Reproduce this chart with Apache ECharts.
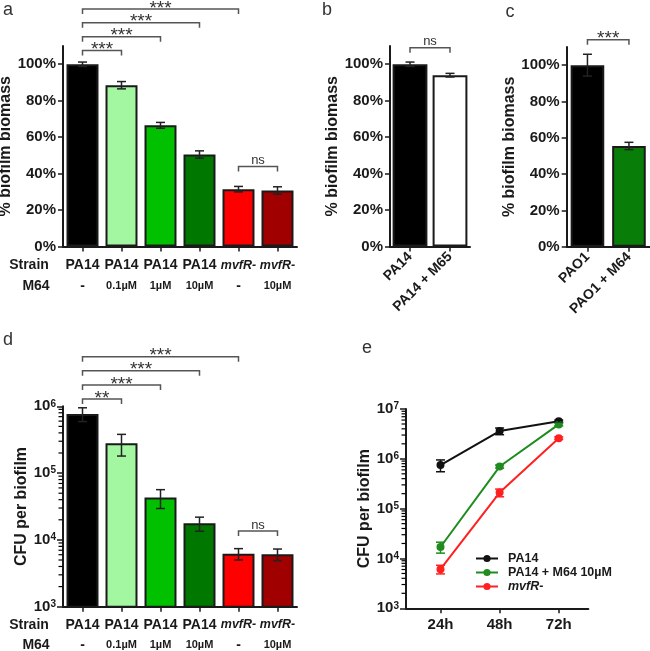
<!DOCTYPE html>
<html><head><meta charset="utf-8">
<script src="https://cdn.jsdelivr.net/npm/echarts@6/dist/echarts.min.js"></script>
<style>html,body{margin:0;padding:0;background:#fff}#c{width:650px;height:651px}</style>
</head><body><div id="c"></div><script>
// ---------- Panel a ----------
const aStrain = ['PA14','PA14','PA14','PA14','mvfR-','mvfR-'];
const aM64 = ['-','0.1µM','1µM','10µM','-','10µM'];
const aValues = [100, 88.5, 66.5, 50.5, 31.5, 30.8];
const aErrors = [1.2, 2.0, 1.6, 2.0, 1.5, 2.0];
const aColors = ['#000000','#a3f7a0','#00c000','#007800','#ff0000','#a00000'];
const aBrackets = [[0,1,107.5,'***'],[0,2,115.1,'***'],[0,3,122.8,'***'],[0,3.85,130.3,'***'],[4,5,43.9,'ns']];
const pctTicks = [0,20,40,60,80,100];
// ---------- Panel b ----------
const bCats = ['PA14','PA14 + M65'];
const bValues = [100, 94];
const bErrors = [1.2, 1.0];
const bColors = ['#000000','#ffffff'];
const bBrackets = [[0,1,109.1,'ns']];
// ---------- Panel c ----------
const cCats = ['PAO1','PAO1 + M64'];
const cValues = [100, 55.5];
const cErrors = [6, 2];
const cColors = ['#000000','#087d08'];
const cBrackets = [[0,1,114,'***']];
// ---------- Panel d ----------
const dStrain = ['PA14','PA14','PA14','PA14','mvfR-','mvfR-'];
const dM64 = ['-','0.1µM','1µM','10µM','-','10µM'];
const dValues = [7.7e5, 2.8e5, 4.3e4, 1.77e4, 6.2e3, 6.1e3];
const dErrors = [1.8e5, 1.0e5, 1.35e4, 4.2e3, 1.2e3, 1.2e3];
const dColors = aColors;
const dBrackets = [[0,1,1.29e6,'**'],[0,2,2.08e6,'***'],[0,3,3.41e6,'***'],[0,3.85,5.52e6,'***'],[4,5,1.36e4,'ns']];
// ---------- Panel e ----------
const eTimes = [24, 48, 72];
const eNames = ['PA14','PA14 + M64 10µM','mvfR-'];
const ePA14 = [7.5e5, 3.6e6, 5.7e6];
const ePA14Err = [2.0e5, 5.5e5, 3.0e5];
const eM64 = [1.7e4, 7.0e5, 4.9e6];
const eM64Err = [4.2e3, 5.0e4, 3.0e5];
const eMvfR = [6.1e3, 2.1e5, 2.6e6];
const eMvfRErr = [1.2e3, 3.7e4, 1.5e5];
const eColors = ['#111111','#1f8c1f','#ff2020'];

const FONT = '"Liberation Sans", Arial, Helvetica, sans-serif';
const INK = '#1a1a1a';

// minor tick values of a base-10 log axis: 2..9 within each decade
function minorTicks(lo, hi) { const out = []; for (let d = lo; d < hi - 1e-9; d *= 10) for (let k = 2; k <= 9; k++) out.push(d * k); return out; }

const chart = echarts.init(document.getElementById('c'), null, {renderer: 'canvas'});

const axisLine = {show: true, onZero: false, lineStyle: {color: INK, width: 2}};
const tickStyle = {lineStyle: {color: INK, width: 1.5}};

function catLabel(strains, m64) {
  return function (v, i) {
    const s = strains[i], m = m64[i];
    const top = s.indexOf('mvfR') === 0 ? '{si|' + s + '}' : '{s|' + s + '}';
    const bot = m === '-' ? '{d|-}' : '{m|' + m + '}';
    return top + '\n' + bot;
  };
}
function catRich(lh) {
  return {
    s: {fontSize: 14, fontWeight: 'bold', fontFamily: FONT, color: INK, lineHeight: lh},
    si: {fontSize: 12.5, fontWeight: 'bold', fontStyle: 'italic', fontFamily: FONT, color: INK, lineHeight: lh},
    m: {fontSize: 11, fontWeight: 'bold', fontFamily: FONT, color: INK, lineHeight: lh},
    d: {fontSize: 14, fontWeight: 'bold', fontFamily: FONT, color: INK, lineHeight: lh}
  };
}
const supRich = {
  b: {fontSize: 15, fontWeight: 'bold', fontFamily: FONT, color: INK},
  s: {fontSize: 10, fontWeight: 'bold', fontFamily: FONT, color: INK, verticalAlign: 'top'}
};
function supFmt(v) { const e = Math.round(Math.log10(v)); return '{b|10}{s|' + e + '}'; }

const nameStyle = {fontSize: 16, fontWeight: 'bold', fontFamily: FONT, color: INK};
const pctLabel = {customValues: pctTicks, formatter: '{value}%', fontSize: 15, fontWeight: 'bold', fontFamily: FONT, color: INK, margin: 7};

function pctAxis(g, gap) {
  return {type: 'value', gridIndex: g, min: 0, max: 110, position: 'left',
    name: '% biofilm biomass', nameLocation: 'middle', nameGap: gap, nameTextStyle: nameStyle,
    axisLine: axisLine, axisTick: {show: true, length: 5, customValues: pctTicks, lineStyle: tickStyle.lineStyle},
    axisLabel: pctLabel, splitLine: {show: false}};
}
function logAxis(g, min, max, gap) {
  return {type: 'log', logBase: 10, gridIndex: g, min: min, max: max, position: 'left',
    name: 'CFU per biofilm', nameLocation: 'middle', nameGap: gap, nameTextStyle: nameStyle,
    axisLine: axisLine, axisTick: {show: true, length: 6, lineStyle: tickStyle.lineStyle},
    axisLabel: {formatter: supFmt, rich: supRich, margin: 7}, splitLine: {show: false}, minorTick: {show: false}};
}

function errRender(color) {
  return function (params, api) {
    const x = api.value(0), lo = api.value(1), hi = api.value(2);
    const a = api.coord([x, lo]), b = api.coord([x, hi]);
    const w = 4.5;
    const st = {stroke: color, lineWidth: 1.5};
    return {type: 'group', children: [
      {type: 'line', shape: {x1: a[0], y1: a[1], x2: b[0], y2: b[1]}, style: st},
      {type: 'line', shape: {x1: b[0] - w, y1: b[1], x2: b[0] + w, y2: b[1]}, style: st},
      {type: 'line', shape: {x1: a[0] - w, y1: a[1], x2: a[0] + w, y2: a[1]}, style: st}
    ]};
  };
}
function bracketRender(list) {
  return function (params, api) {
    const br = list[params.dataIndex];
    const p1 = api.coord([api.value(0), api.value(1)]);
    const p2 = api.coord([api.value(2), api.value(1)]);
    const tip = 5;
    const isNs = br[3] === 'ns';
    return {type: 'group', children: [
      {type: 'polyline', shape: {points: [[p1[0], p1[1] + tip], [p1[0], p1[1]], [p2[0], p2[1]], [p2[0], p2[1] + tip]]},
        style: {stroke: '#555', lineWidth: 1.5, fill: null}},
      {type: 'text', style: {text: br[3], x: (p1[0] + p2[0]) / 2, y: isNs ? p1[1] - 6 : p1[1] - 0.5,
        align: 'center', verticalAlign: 'middle', textAlign: 'center', textVerticalAlign: 'middle',
        font: (isNs ? '13px ' : '19px ') + FONT, fill: '#333'}}
    ]};
  };
}
// short minor tick marks drawn at the left edge of a log axis' grid
function minorRender(isCat) {
  return function (params, api) {
    const p = api.coord([api.value(0), api.value(1)]);
    const x0 = isCat ? p[0] - api.size([1, 1])[0] / 2 : p[0];
    return {type: 'group', children: [
      {type: 'line', shape: {x1: x0 - 4.5, y1: p[1], x2: x0 - 0.5, y2: p[1]}, style: {stroke: '#000', lineWidth: 1.2}}
    ]};
  };
}
function minorSeries(xi, yi, xv, isCat, lo, hi) {
  return {type: 'custom', xAxisIndex: xi, yAxisIndex: yi, renderItem: minorRender(isCat), silent: true,
    data: minorTicks(lo, hi).map(v => [xv, v])};
}
function barSeries(xi, yi, values, colors, gap) {
  return {type: 'bar', xAxisIndex: xi, yAxisIndex: yi, barCategoryGap: gap, clip: true,
    data: values.map((v, i) => ({value: v, itemStyle: {color: colors[i]}})),
    itemStyle: {borderColor: INK, borderWidth: 2}, silent: true};
}
function errSeries(xi, yi, values, errs, color) {
  return {type: 'custom', xAxisIndex: xi, yAxisIndex: yi, renderItem: errRender(color), z: 5,
    data: values.map((v, i) => [i, v - errs[i], v + errs[i]]), silent: true};
}
function errSeriesX(xi, yi, xs, values, errs, color) {
  return {type: 'custom', xAxisIndex: xi, yAxisIndex: yi, renderItem: errRender(color), z: 5,
    data: values.map((v, i) => [xs[i], v - errs[i], v + errs[i]]), silent: true};
}
function bracketSeries(xi, yi, list) {
  return {type: 'custom', xAxisIndex: xi, yAxisIndex: yi, renderItem: bracketRender(list), clip: false, z: 6,
    data: list.map(b => [b[0], b[2], b[1]]), silent: true};
}
function catAxis(g, strains, m64, lh) {
  return {type: 'category', gridIndex: g, data: strains.map((_, i) => i),
    axisLine: axisLine, axisTick: {show: true, alignWithLabel: true, length: 5, lineStyle: tickStyle.lineStyle},
    axisLabel: {interval: 0, margin: 8, formatter: catLabel(strains, m64), rich: catRich(lh)}};
}
function rotAxis(g, cats) {
  return {type: 'category', gridIndex: g, data: cats,
    axisLine: axisLine, axisTick: {show: true, alignWithLabel: true, length: 5, lineStyle: tickStyle.lineStyle},
    axisLabel: {interval: 0, rotate: 45, margin: 8, fontSize: 14, fontWeight: 'bold', fontFamily: FONT, color: INK}};
}

const txt = (t, x, y, size, weight, color, align) => ({type: 'text', x: x, y: y, silent: true,
  style: {text: t, font: (weight || 'normal') + ' ' + size + 'px ' + FONT, fill: color || INK,
    textAlign: align || 'center', textVerticalAlign: 'middle', align: align || 'center', verticalAlign: 'middle'}});

const option = {
  animation: false,
  backgroundColor: '#ffffff',
  grid: [
    {left: 63, top: 46, width: 234, height: 200.6, outerBoundsMode: 'none'},
    {left: 390, top: 46, width: 80, height: 200.6, outerBoundsMode: 'none'},
    {left: 566.7, top: 47, width: 83, height: 199.7, outerBoundsMode: 'none'},
    {left: 63, top: 406.3, width: 234, height: 200.4, outerBoundsMode: 'none'},
    {left: 406, top: 409, width: 182.3, height: 199.3, outerBoundsMode: 'none'}
  ],
  xAxis: [
    catAxis(0, aStrain, aM64, 21),
    rotAxis(1, bCats),
    rotAxis(2, cCats),
    catAxis(3, dStrain, dM64, 20),
    {type: 'value', gridIndex: 4, min: 10, max: 84, axisLine: axisLine, splitLine: {show: false},
      axisTick: {show: true, length: 5, customValues: eTimes, lineStyle: tickStyle.lineStyle},
      axisLabel: {customValues: eTimes, formatter: v => v + 'h', fontSize: 15, fontWeight: 'bold', fontFamily: FONT, color: INK, margin: 9}}
  ],
  yAxis: [
    pctAxis(0, 46),
    pctAxis(1, 48),
    pctAxis(2, 48),
    logAxis(3, 1e3, 1e6, 32),
    logAxis(4, 1e3, 1e7, 30)
  ],
  legend: {
    data: eNames, orient: 'vertical', left: 475, top: 552, padding: 0, itemWidth: 22, itemHeight: 9, itemGap: 1,
    formatter: n => n === 'mvfR-' ? '{i|' + n + '}' : '{n|' + n + '}',
    textStyle: {fontSize: 12.5, fontWeight: 'bold', fontFamily: FONT, color: INK, padding: [0, 0, 0, 5],
      rich: {n: {fontSize: 12.5, fontWeight: 'bold', fontFamily: FONT, color: INK, lineHeight: 13.5},
             i: {fontSize: 12.5, fontWeight: 'bold', fontStyle: 'italic', fontFamily: FONT, color: INK, lineHeight: 13.5}}}
  },
  series: [
    barSeries(0, 0, aValues, aColors, '18%'),
    errSeries(0, 0, aValues, aErrors, '#222'),
    bracketSeries(0, 0, aBrackets),
    barSeries(1, 1, bValues, bColors, '13%'),
    errSeries(1, 1, bValues, bErrors, '#222'),
    bracketSeries(1, 1, bBrackets),
    barSeries(2, 2, cValues, cColors, '19%'),
    errSeries(2, 2, cValues, cErrors, '#222'),
    bracketSeries(2, 2, cBrackets),
    barSeries(3, 3, dValues, dColors, '18%'),
    errSeries(3, 3, dValues, dErrors, '#222'),
    bracketSeries(3, 3, dBrackets),
    minorSeries(3, 3, 0, true, 1e3, 1e6),
    {name: eNames[0], type: 'line', xAxisIndex: 4, yAxisIndex: 4, data: eTimes.map((t, i) => [t, ePA14[i]]),
      symbol: 'circle', symbolSize: 8, itemStyle: {color: eColors[0]}, lineStyle: {color: eColors[0], width: 2}},
    {name: eNames[1], type: 'line', xAxisIndex: 4, yAxisIndex: 4, data: eTimes.map((t, i) => [t, eM64[i]]),
      symbol: 'circle', symbolSize: 8, itemStyle: {color: eColors[1]}, lineStyle: {color: eColors[1], width: 2}},
    {name: eNames[2], type: 'line', xAxisIndex: 4, yAxisIndex: 4, data: eTimes.map((t, i) => [t, eMvfR[i]]),
      symbol: 'circle', symbolSize: 8, itemStyle: {color: eColors[2]}, lineStyle: {color: eColors[2], width: 2}},
    errSeriesX(4, 4, eTimes, ePA14, ePA14Err, eColors[0]),
    errSeriesX(4, 4, eTimes, eM64, eM64Err, eColors[1]),
    errSeriesX(4, 4, eTimes, eMvfR, eMvfRErr, eColors[2]),
    minorSeries(4, 4, 10, false, 1e3, 1e7)
  ],
  graphic: [
    txt('a', 8, 10, 18, 'normal', '#333'),
    txt('b', 327, 10, 18, 'normal', '#333'),
    txt('c', 510, 12, 18, 'normal', '#333'),
    txt('d', 8, 340, 18, 'normal', '#333'),
    txt('e', 367, 348, 18, 'normal', '#333'),
    txt('Strain', 29, 265, 14, 'bold'),
    txt('M64', 36, 286, 14, 'bold'),
    txt('Strain', 29, 625, 14, 'bold'),
    txt('M64', 36, 645, 14, 'bold')
  ]
};
chart.setOption(option);
</script></body></html>
